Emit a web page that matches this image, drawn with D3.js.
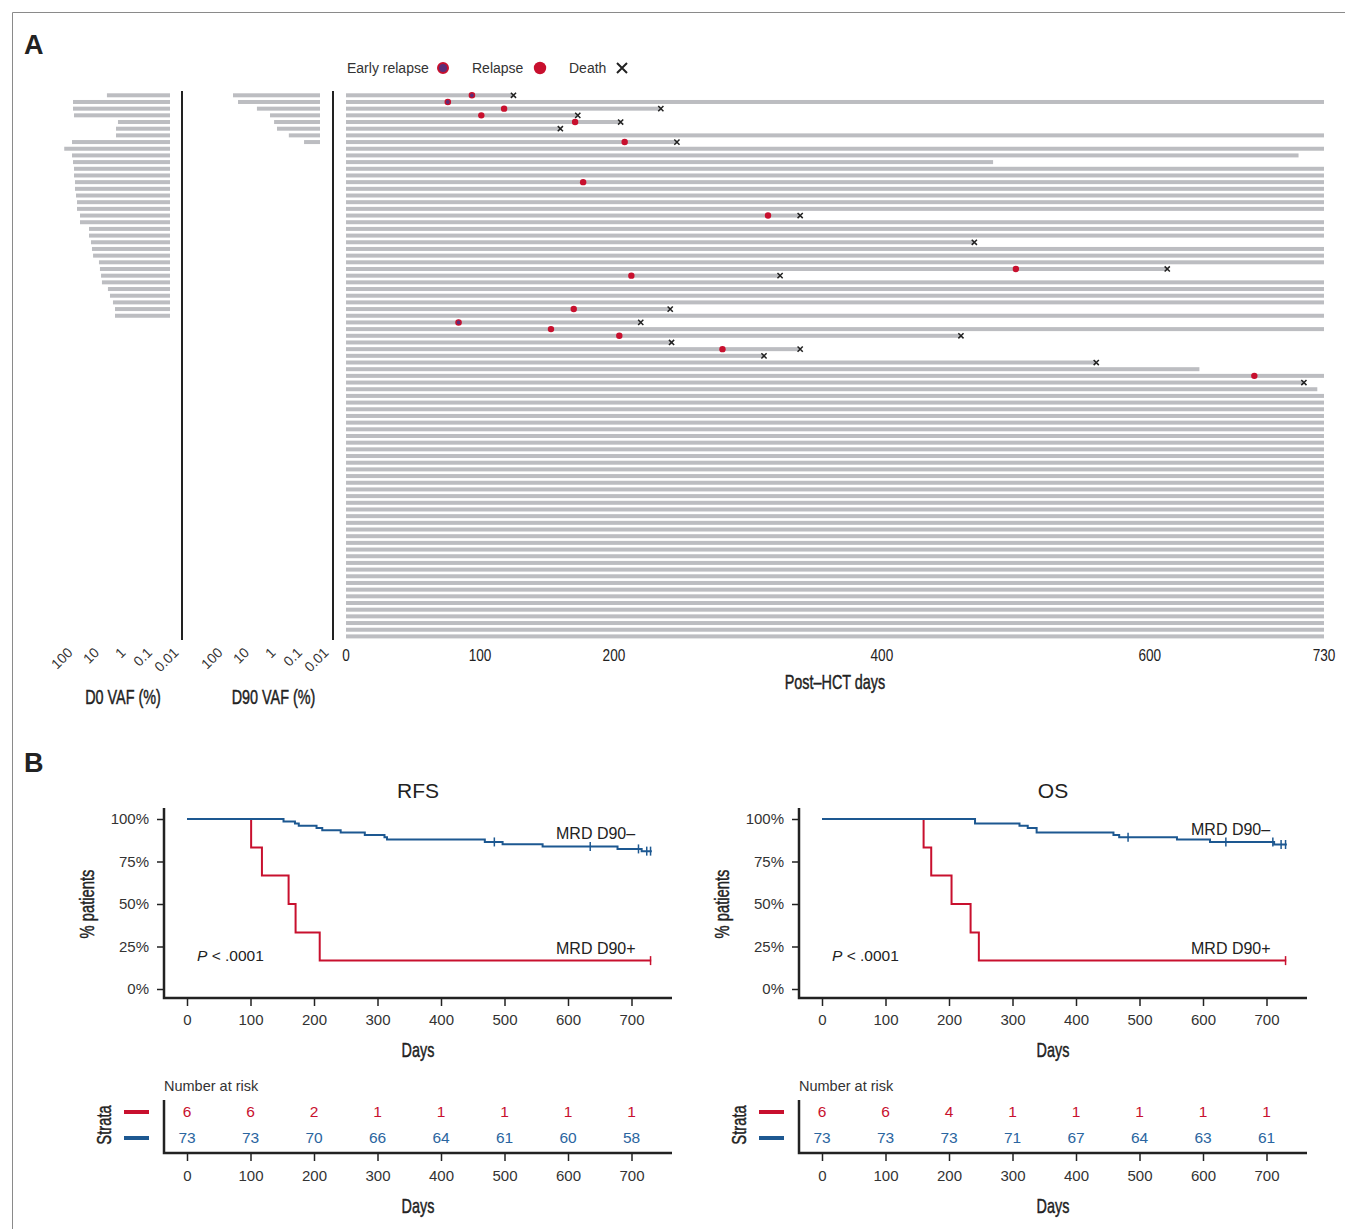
<!DOCTYPE html>
<html>
<head>
<meta charset="utf-8">
<script src="https://cdn.jsdelivr.net/npm/d3@7"></script>
<style>
  body { margin: 0; background: #fff; }
  svg { display: block; }
  .sans { font-family: "Liberation Sans", Arial, sans-serif; }
</style>
</head>
<body>
<div id="chart"></div>
<script>
// ---- panel A: swimmer plot, one row per patient ----
const swimEndDays = [
  125, 730, 235, 173, 205, 160, 730, 247, 730, 711,
  483, 730, 730, 730, 730, 730, 730, 730, 339, 730,
  730, 730, 469, 730, 730, 730, 613, 324, 730, 730,
  730, 730, 242, 730, 220, 730, 459, 243, 339, 312,
  560, 637, 730, 715, 725, 730, 730, 730, 730, 730,
  730, 730, 730, 730, 730, 730, 730, 730, 730, 730,
  730, 730, 730, 730, 730, 730, 730, 730, 730, 730,
  730, 730, 730, 730, 730, 730, 730, 730, 730, 730,
  730, 730
];
const deathRows = [0, 2, 3, 4, 5, 7, 18, 22, 26, 27, 32, 34, 36, 37, 38, 39, 40, 43];
const relapseRows = [0, 1, 2, 3, 4, 7, 13, 18, 26, 27, 32, 34, 35, 36, 38, 42];
const relapseDays = [94, 76, 118, 101, 171, 208, 177, 315, 500, 213, 170, 84, 153, 204, 281, 678];
const earlyRelapseRows = [0, 1, 34];

// VAF (%) at day 0 (rows 0..33) and at day 90 (rows 0..7)
const d0Vaf = [2.4, 45.7, 45.7, 41.9, 0.92, 1.09, 1.09, 49.9, 98, 49.9,
  45.7, 41.9, 41.9, 38.5, 38.5, 35.2, 32.3, 32.3, 24.9, 24.9,
  11.4, 11.4, 9.6, 8.8, 8.0, 4.8, 4.4, 4.0, 3.7, 2.2,
  1.84, 1.42, 1.19, 1.19];
const d90Vaf = [19.2, 12.4, 2.4, 0.77, 0.54, 0.42, 0.15, 0.04];
const vafTicks = [100, 10, 1, 0.1, 0.01];
const swimTicks = [0, 100, 200, 400, 600, 730];

// ---- panel B: Kaplan-Meier steps ----
const rfsNegTimes = [0, 152, 170, 176, 204, 213, 242, 280, 311, 315, 469, 497, 560, 678, 716];
const rfsNegSurv = [100, 98.6, 97.4, 96.1, 94.7, 93.4, 92.0, 90.6, 89.3, 87.9, 86.5, 85.2, 83.8, 82.4, 81.1];
const rfsNegCensor = [484, 635, 711, 724, 730];
const rfsPosTimes = [0, 101, 118, 160, 171, 209];
const rfsPosSurv = [100, 83.3, 66.7, 50, 33.3, 16.7];
const rfsPosCensor = [730];

const osNegTimes = [0, 241, 311, 324, 338, 459, 468, 559, 611, 712];
const osNegSurv = [100, 97.4, 96.1, 94.7, 92.0, 90.6, 89.3, 87.9, 86.5, 85.0];
const osNegCensor = [482, 636, 710, 723, 730];
const osPosTimes = [0, 160, 172, 204, 234, 247];
const osPosSurv = [100, 83.3, 66.7, 50, 33.3, 16.7];
const osPosCensor = [730];

const riskTimes = [0, 100, 200, 300, 400, 500, 600, 700];
const rfsRiskPos = [6, 6, 2, 1, 1, 1, 1, 1];
const rfsRiskNeg = [73, 73, 70, 66, 64, 61, 60, 58];
const osRiskPos = [6, 6, 4, 1, 1, 1, 1, 1];
const osRiskNeg = [73, 73, 73, 71, 67, 64, 63, 61];
const survTicks = [0, 25, 50, 75, 100];

const RED = "#c8102e", BLUE = "#1d5891", GREY = "#bcbdc1", INK = "#222";

const svg = d3.select("#chart").append("svg").attr("width", 1345).attr("height", 1229);

// no condensed face installed, so squeeze Liberation Sans horizontally
function narrow(g, x, y, txt, size, rot, sx, heavy) {
  const t = g.append("g")
    .attr("transform", `translate(${x},${y})` + (rot ? ` rotate(${rot})` : "") + ` scale(${sx || 0.72},1)`)
    .append("text").attr("class", "sans").attr("font-size", size).attr("fill", INK)
    .attr("text-anchor", "middle").attr("dy", "0.35em").text(txt);
  if (heavy !== false) t.attr("stroke", INK).attr("stroke-width", 0.45);
  return t;
}

// figure frame (top + left edges)
svg.append("path").attr("d", "M12.5,1229V12.5H1345").attr("fill", "none").attr("stroke", "#8a8a8a").attr("stroke-width", 1);

svg.append("text").attr("class", "sans").attr("x", 24).attr("y", 54)
  .attr("font-size", 27).attr("font-weight", "bold").attr("fill", INK).text("A");
svg.append("text").attr("class", "sans").attr("x", 24).attr("y", 772)
  .attr("font-size", 27).attr("font-weight", "bold").attr("fill", INK).text("B");

// ---------- Panel A ----------
const rowY = d3.scalePoint().domain(d3.range(swimEndDays.length)).range([95.3, 636.4]);
const swimX = d3.scaleLinear().domain([0, 730]).range([346, 1324]);
const d0X = d3.scaleLog().domain([100, 0.01]).range([64, 170]);
const d90X = d3.scaleLog().domain([100, 0.01]).range([214, 320]);
const BAR_H = 4;

const gA = svg.append("g");

function vafPanel(vals, xs, lineX, label) {
  const base = xs(0.01);
  gA.append("g").selectAll("rect").data(vals).join("rect")
    .attr("x", d => xs(d)).attr("width", d => base - xs(d))
    .attr("y", (d, i) => rowY(i) - BAR_H / 2).attr("height", BAR_H)
    .attr("fill", GREY);
  gA.append("line").attr("x1", lineX).attr("x2", lineX).attr("y1", 91).attr("y2", 640)
    .attr("stroke", INK).attr("stroke-width", 2);
  gA.append("g").selectAll("text").data(vafTicks).join("text")
    .attr("class", "sans").attr("font-size", 14).attr("fill", "#333")
    .attr("text-anchor", "end").attr("dy", "0.75em")
    .attr("transform", d => `translate(${xs(d) + 2},646) rotate(-45)`)
    .text(d => String(d));
  narrow(gA, (xs(100) + lineX) / 2, 697, label, 20);
}
vafPanel(d0Vaf, d0X, 182, "D0 VAF (%)");
vafPanel(d90Vaf, d90X, 333, "D90 VAF (%)");

// swimmer bars
gA.append("g").selectAll("rect").data(swimEndDays).join("rect")
  .attr("x", swimX(0)).attr("width", d => swimX(d) - swimX(0))
  .attr("y", (d, i) => rowY(i) - BAR_H / 2).attr("height", BAR_H)
  .attr("fill", GREY);

function cross(g, cx, cy, r, w) {
  g.append("path").attr("d", `M${cx - r},${cy - r}L${cx + r},${cy + r}M${cx - r},${cy + r}L${cx + r},${cy - r}`)
    .attr("stroke", INK).attr("stroke-width", w).attr("fill", "none");
}

const early = new Set(earlyRelapseRows);
const relapses = relapseRows.map((r, i) => ({ row: r, day: relapseDays[i], early: early.has(r) }));
gA.append("g").selectAll("circle").data(relapses).join("circle")
  .attr("cx", d => swimX(d.day)).attr("cy", d => rowY(d.row))
  .attr("r", d => d.early ? 2.6 : 3.2)
  .attr("fill", d => d.early ? "#5b2d78" : RED)
  .attr("stroke", d => d.early ? RED : "none").attr("stroke-width", 1.4);

const gDeath = gA.append("g");
deathRows.forEach(r => cross(gDeath, swimX(swimEndDays[r]), rowY(r), 2.6, 1.5));

const gTick = gA.append("g");
swimTicks.forEach(d => narrow(gTick, swimX(d), 655, String(d), 16, 0, 0.85, false));
narrow(gA, swimX(365), 682, "Post\u2013HCT days", 20);

// legend
const lg = gA.append("g").attr("class", "sans").attr("font-size", 14).attr("fill", "#333");
lg.append("text").attr("x", 347).attr("y", 73).text("Early relapse");
lg.append("circle").attr("cx", 443).attr("cy", 68).attr("r", 5).attr("fill", "#5b2d78").attr("stroke", RED).attr("stroke-width", 2);
lg.append("text").attr("x", 472).attr("y", 73).text("Relapse");
lg.append("circle").attr("cx", 540).attr("cy", 68).attr("r", 6.2).attr("fill", RED);
lg.append("text").attr("x", 569).attr("y", 73).text("Death");
cross(lg, 622, 68, 5, 2);

// ---------- Panel B ----------
function kmPanel(ox, title, pos, neg, negLabelY, riskPos, riskNeg) {
  const g = svg.append("g");
  const xs = d3.scaleLinear().domain([0, 700]).range([187 + ox, 631.5 + ox]);
  const ys = d3.scaleLinear().domain([0, 100]).range([989, 819]);
  const axL = 164 + ox, axR = 672 + ox;

  g.append("text").attr("class", "sans").attr("font-size", 21).attr("fill", INK)
    .attr("text-anchor", "middle").attr("x", 418 + ox).attr("y", 798).text(title);

  const yAx = g.append("g").attr("transform", `translate(${axL},0)`)
    .call(d3.axisLeft(ys).tickValues(survTicks).tickFormat(d => d + "%").tickSize(7).tickPadding(8));
  const xAx = g.append("g").attr("transform", "translate(0,998)")
    .call(d3.axisBottom(xs).tickValues(riskTimes).tickSize(8).tickPadding(8));
  [yAx, xAx].forEach(a => {
    a.select(".domain").remove();
    a.selectAll("line").attr("stroke", INK).attr("stroke-width", 1.5);
    a.selectAll("text").attr("class", "sans").attr("font-size", 15).attr("fill", "#333").attr("font-family", null);
  });
  g.append("path").attr("d", `M${axL},808V998H${axR}`).attr("fill", "none")
    .attr("stroke", INK).attr("stroke-width", 2.5);

  narrow(g, 418 + ox, 1050, "Days", 20);
  narrow(g, 87 + ox, 904, "% patients", 20.5, -90);

  const line = d3.line().x(d => xs(d[0])).y(d => ys(d[1])).curve(d3.curveStepAfter);
  [[pos, RED], [neg, BLUE]].forEach(([c, col]) => {
    const pts = c.times.map((t, i) => [t, c.surv[i]]);
    pts.push([c.end, c.surv[c.surv.length - 1]]);
    g.append("path").attr("d", line(pts)).attr("fill", "none").attr("stroke", col).attr("stroke-width", 2);
    const survAt = t => c.surv[d3.bisectRight(c.times, t) - 1];
    g.append("g").selectAll("line").data(c.censor).join("line")
      .attr("x1", d => xs(d)).attr("x2", d => xs(d))
      .attr("y1", d => ys(survAt(d)) - 4.5).attr("y2", d => ys(survAt(d)) + 4.5)
      .attr("stroke", col).attr("stroke-width", 1.5);
  });

  const lab = g.append("g").attr("class", "sans").attr("font-size", 16).attr("fill", INK);
  lab.append("text").attr("x", 556 + ox).attr("y", negLabelY).text("MRD D90\u2013");
  lab.append("text").attr("x", 556 + ox).attr("y", 954).text("MRD D90+");
  const p = lab.append("text").attr("x", 197 + ox).attr("y", 961).attr("font-size", 15.5);
  p.append("tspan").attr("font-style", "italic").text("P");
  p.append("tspan").text(" < .0001");

  // number at risk table
  g.append("text").attr("class", "sans").attr("font-size", 14.5).attr("fill", "#333")
    .attr("x", axL).attr("y", 1091).text("Number at risk");
  const tAx = g.append("g").attr("transform", "translate(0,1153)")
    .call(d3.axisBottom(xs).tickValues(riskTimes).tickSize(8).tickPadding(9));
  tAx.select(".domain").remove();
  tAx.selectAll("line").attr("stroke", INK).attr("stroke-width", 1.5);
  tAx.selectAll("text").attr("class", "sans").attr("font-size", 15).attr("fill", "#333").attr("font-family", null);
  g.append("path").attr("d", `M${axL},1100V1153H${axR}`).attr("fill", "none")
    .attr("stroke", INK).attr("stroke-width", 2.5);
  [[riskPos, RED, 1112], [riskNeg, "#2a65a0", 1138]].forEach(([vals, col, y]) => {
    g.append("g").selectAll("text").data(vals).join("text")
      .attr("class", "sans").attr("font-size", 15.5).attr("fill", col)
      .attr("text-anchor", "middle").attr("dy", "0.35em")
      .attr("x", (d, i) => xs(riskTimes[i])).attr("y", y).text(d => d);
    g.append("line").attr("x1", 124 + ox).attr("x2", 149 + ox).attr("y1", y).attr("y2", y)
      .attr("stroke", col === RED ? RED : BLUE).attr("stroke-width", 4);
  });
  narrow(g, 104 + ox, 1125, "Strata", 20.5, -90);
  narrow(g, 418 + ox, 1206, "Days", 20);
}

kmPanel(0, "RFS",
  { times: rfsPosTimes, surv: rfsPosSurv, censor: rfsPosCensor, end: 731 },
  { times: rfsNegTimes, surv: rfsNegSurv, censor: rfsNegCensor, end: 732 },
  839, rfsRiskPos, rfsRiskNeg);
kmPanel(635, "OS",
  { times: osPosTimes, surv: osPosSurv, censor: osPosCensor, end: 731 },
  { times: osNegTimes, surv: osNegSurv, censor: osNegCensor, end: 732 },
  835, osRiskPos, osRiskNeg);
</script>
</body>
</html>
